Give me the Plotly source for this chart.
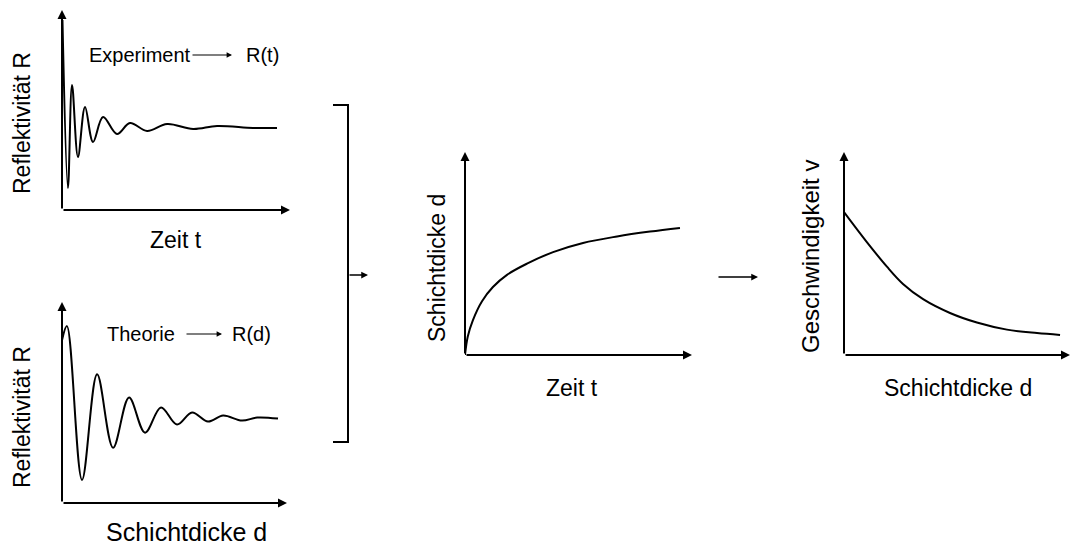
import plotly.graph_objects as go

# Experiment: measured reflectivity R over time t
exp_t = [0.02, 0.26, 0.44, 0.70, 1.01, 1.36, 1.80, 2.41, 2.98, 3.73, 4.61, 5.75, 6.80, 8.38, 9.43]
exp_R = [9.5, 1.1, 6.25, 2.65, 5.15, 3.4, 4.65, 3.8, 4.35, 3.95, 4.3, 4.05, 4.2, 4.1, 4.1]

# Theory: reflectivity R as a function of layer thickness d
theo_d = [0.0, 0.22, 0.89, 1.56, 2.27, 2.98, 3.69, 4.40, 5.11, 5.78, 6.49, 7.16, 8.0, 8.67, 9.6]
theo_R = [8.1, 8.8, 1.15, 6.4, 2.75, 5.25, 3.5, 4.75, 3.9, 4.5, 4.05, 4.35, 4.1, 4.25, 4.2]

# Result: layer thickness d over time t
growth_t = [0.0, 0.12, 0.35, 0.75, 1.23, 1.85, 2.73, 3.88, 5.2, 6.7, 8.15, 9.47]
growth_d = [0.0, 0.9, 1.72, 2.65, 3.35, 3.95, 4.5, 5.07, 5.52, 5.84, 6.08, 6.26]

# Result: growth rate v over layer thickness d
speed_d = [0.0, 1.02, 1.90, 2.61, 3.5, 4.69, 5.88, 7.21, 8.54, 9.56]
speed_v = [7.04, 5.55, 4.35, 3.5, 2.75, 2.07, 1.6, 1.25, 1.08, 0.99]

W, H = 1076, 547
FONT = "Liberation Sans, Arial, Helvetica, sans-serif"
FS_TITLE = 23
FS_CAPTION = 20
INK = "black"


def px_x(v):
    return v / W


def px_y(v):
    return 1 - v / H


# panel boxes in pixels: (left, right, top, bottom)
panels = [
    (62, 290, 10, 210),
    (62, 287, 302, 503),
    (465, 692, 152, 355),
    (844, 1070, 152, 355),
]

fig = go.Figure()
series = [(exp_t, exp_R), (theo_d, theo_R), (growth_t, growth_d), (speed_d, speed_v)]

layout_axes = {}
annotations = []
for i, ((l, r, t, b), (xs, ys)) in enumerate(zip(panels, series), start=1):
    xa = "x" if i == 1 else f"x{i}"
    ya = "y" if i == 1 else f"y{i}"
    fig.add_trace(go.Scatter(
        x=xs, y=ys, mode="lines", xaxis=xa, yaxis=ya,
        line=dict(color=INK, width=2, shape="spline", smoothing=1.0),
        showlegend=False, hoverinfo="skip",
    ))
    key = "" if i == 1 else str(i)
    layout_axes[f"xaxis{key}"] = dict(
        domain=[px_x(l), px_x(r)], range=[0, 10], visible=False,
        anchor=ya, fixedrange=True,
    )
    layout_axes[f"yaxis{key}"] = dict(
        domain=[px_y(b), px_y(t)], range=[0, 10], visible=False,
        anchor=xa, fixedrange=True,
    )
    # axis arrows
    for hx, hy in [(0, 10), (10, 0)]:
        annotations.append(dict(
            x=hx, y=hy, ax=0, ay=0, xref=xa, yref=ya, axref=xa, ayref=ya,
            text="", showarrow=True, arrowhead=2, arrowsize=0.9,
            arrowwidth=2, arrowcolor=INK, standoff=0,
        ))


def label(text, x, y, angle=0, anchor="center", size=FS_TITLE):
    annotations.append(dict(
        x=px_x(x), y=px_y(y), xref="paper", yref="paper", text=text,
        showarrow=False, textangle=angle, xanchor=anchor, yanchor="middle",
        font=dict(family=FONT, size=size, color=INK),
    ))


def arrow(x0, x1, y, width=1.5, size=1.0):
    annotations.append(dict(
        x=px_x(x1), y=px_y(y), ax=-(x1 - x0), ay=0,
        xref="paper", yref="paper", axref="pixel", ayref="pixel",
        text="", showarrow=True, arrowhead=2, arrowsize=size,
        arrowwidth=width, arrowcolor=INK, standoff=0,
    ))


# axis titles
label("Reflektivität R", 22, 123, -90)
label("Zeit t", 176, 240)
label("Reflektivität R", 22, 417, -90)
label("Schichtdicke d", 186, 532, size=25)
label("Schichtdicke d", 437, 268, -90)
label("Zeit t", 572, 388)
label("Geschwindigkeit v", 810, 257, -90, size=24)
label("Schichtdicke d", 958, 388)

# in-panel captions
label("Experiment", 87, 55, anchor="left", size=FS_CAPTION)
arrow(191, 232, 55, width=1.2, size=0.9)
label("R(t)", 281, 55, anchor="right", size=FS_CAPTION)

label("Theorie", 105, 334, anchor="left", size=FS_CAPTION)
arrow(185, 222, 334, width=1.2, size=0.9)
label("R(d)", 273, 334, anchor="right", size=FS_CAPTION)

# connecting arrows
arrow(348, 368, 275, width=1.5, size=0.9)
arrow(717, 758, 277, width=1.5, size=0.9)

# bracket joining the two reflectivity panels
shapes = [dict(
    type="path", xref="paper", yref="paper",
    path=(f"M {px_x(333)},{px_y(105)} L {px_x(348)},{px_y(105)} "
          f"L {px_x(348)},{px_y(442)} L {px_x(333)},{px_y(442)}"),
    line=dict(color=INK, width=2),
)]

fig.update_layout(
    width=W, height=H,
    margin=dict(l=0, r=0, t=0, b=0),
    paper_bgcolor="white", plot_bgcolor="rgba(0,0,0,0)",
    annotations=annotations, shapes=shapes,
    **layout_axes,
)

fig.write_html("out.html", config={"displayModeBar": False})
